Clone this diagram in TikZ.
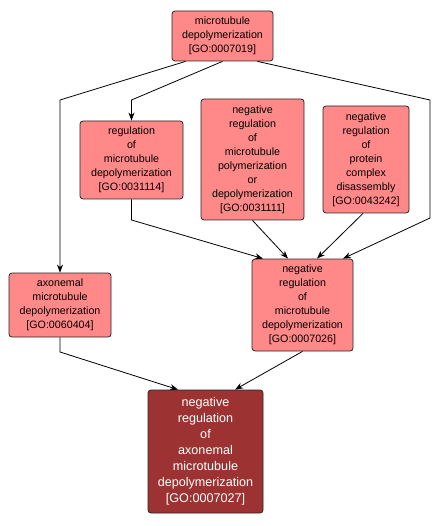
\documentclass[tikz,border=0pt]{standalone}
\usepackage{fontspec}
\setmainfont{Liberation Sans}
\usetikzlibrary{arrows.meta,calc}
\definecolor{lightred}{RGB}{255,136,136}
\definecolor{darkred}{RGB}{157,50,50}
\tikzset{
  term/.style={draw=black!85, line width=0.8pt, rounded corners=3pt, fill=lightred,
    align=center, inner sep=0pt, font=\fontsize{10.7pt}{14pt}\selectfont, text=black},
  focus/.style={term, fill=darkred, text=white, font=\fontsize{12.6pt}{16pt}\selectfont},
  arr/.style={line width=0.8pt, -{Stealth[length=8pt,width=6pt,inset=2.5pt]}}
}
\begin{document}
\begin{tikzpicture}[x=1pt,y=-1pt]
\useasboundingbox (0,0) rectangle (439,526);
\node[term, minimum width=101pt, minimum height=50pt] (A) at (222.5,36)
  {microtubule\\depolymerization\\{[GO:0007019]}};
\node[term, minimum width=103pt, minimum height=78pt] (B) at (131.5,160)
  {regulation\\of\\microtubule\\depolymerization\\{[GO:0031114]}};
\node[term, minimum width=103pt, minimum height=121pt] (C) at (252.5,159.5)
  {negative\\regulation\\of\\microtubule\\polymerization\\or\\depolymerization\\{[GO:0031111]}};
\node[term, minimum width=86pt, minimum height=107pt] (D) at (366,159.5)
  {negative\\regulation\\of\\protein\\complex\\disassembly\\{[GO:0043242]}};
\node[term, minimum width=102pt, minimum height=64pt] (E) at (60,305)
  {axonemal\\microtubule\\depolymerization\\{[GO:0060404]}};
\node[term, minimum width=101pt, minimum height=92pt] (F) at (302.5,305)
  {negative\\regulation\\of\\microtubule\\depolymerization\\{[GO:0007026]}};
\node[focus, minimum width=115pt, minimum height=123pt] (G) at (205.5,451.5)
  {negative\\regulation\\of\\axonemal\\microtubule\\depolymerization\\{[GO:0007027]}};
\coordinate (bAE) at (60,100);
\coordinate (bAB) at (131.5,100);
\coordinate (bAF1) at (430,100);
\coordinate (bAF2) at (430,218);
\coordinate (bBF) at (131.5,220);
\coordinate (bEG) at (60,352);
\draw[arr] ($(A.south)+(-37,0)$) -- (bAE) -- (E.north);
\draw[arr] (A.south) -- (bAB) -- (B.north);
\draw[arr] ($(A.south)+(35,0)$) -- (bAF1) -- (bAF2) -- ($(F.north)+(40.5,0)$);
\draw[arr] (B.south) -- (bBF) -- ($(F.north)+(-39.5,0)$);
\draw[arr] (C.south) -- ($(F.north)+(-14.5,0)$);
\draw[arr] ($(D.south)+(-3,0)$) -- ($(F.north)+(14.5,0)$);
\draw[arr] (E.south) -- (bEG) -- ($(G.north)+(-27.5,0)$);
\draw[arr] (F.south) -- ($(G.north)+(29.5,0)$);
\end{tikzpicture}
\end{document}
